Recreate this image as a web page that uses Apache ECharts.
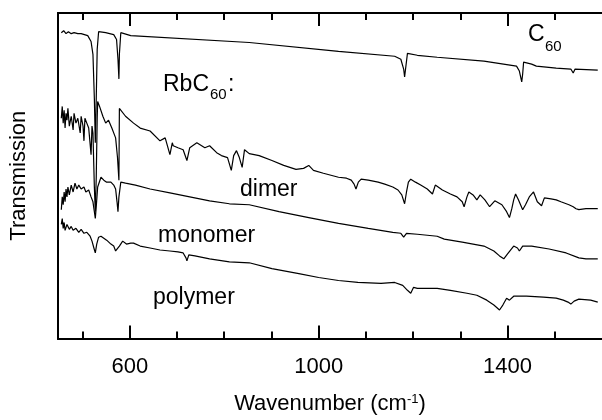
<!DOCTYPE html>
<html>
<head>
<meta charset="utf-8">
<script src="https://cdn.jsdelivr.net/npm/echarts@6/dist/echarts.min.js"></script>
<style>html,body{margin:0;padding:0;background:#fff}#c{width:602px;height:420px}</style>
</head>
<body>
<div id="c"></div>
<script>
// Wavenumber (cm^-1) and transmission (arbitrary units, offset)
const c60Wn = [455,460,465,470,476,482,490,497,511,518,522,525,527,529,531,534,549,566,572,575,577,578,581,602,853,1042,1161,1174,1180,1182,1184,1188,1209,1251,1350,1419,1425,1430,1432,1434,1451,1461,1503,1534,1539,1543,1591];
const c60T  = [311,313,310,312,310,311,310,310,308,302,289,244,199,244,294,312,311,309,304,284,264,289,311,308,301,292,287,284,274,266,274,290,288,286,282,277,272,261,269,281,279,277,275,274,270,274,273];

const dimerWn = [455,457,459,461,463,465,467,469,472,476,480,482,486,490,495,497,501,503,505,509,513,518,520,522,525,527,529,531,532,536,543,549,555,562,566,570,574,577,578,591,608,622,643,664,675,685,690,692,702,713,721,727,742,759,769,784,794,807,815,820,826,832,838,843,853,874,901,926,952,968,979,989,1010,1042,1059,1069,1075,1079,1084,1090,1105,1126,1140,1157,1168,1176,1182,1186,1190,1195,1205,1216,1230,1241,1247,1262,1279,1293,1304,1308,1314,1318,1327,1335,1342,1352,1362,1373,1388,1398,1404,1409,1413,1417,1423,1432,1438,1446,1455,1463,1472,1478,1492,1503,1513,1530,1539,1545,1551,1566,1591];
const dimerT  = [224,236,219,232,214,229,222,234,216,226,212,229,219,224,209,226,216,201,224,219,214,187,216,209,154,129,164,224,241,236,226,219,222,214,212,204,184,161,234,226,219,214,211,201,204,187,199,196,194,192,181,194,199,194,196,189,186,184,171,186,191,184,174,192,188,186,181,176,172,173,176,171,168,164,163,161,157,152,159,162,161,159,157,154,151,146,137,149,159,162,159,156,152,147,156,151,147,144,139,134,144,149,146,141,146,141,134,140,136,129,123,132,141,147,141,131,136,144,149,139,135,143,142,141,139,136,134,132,131,132,132];

const monoWn = [455,457,459,461,463,465,467,469,472,476,480,484,488,492,497,503,507,513,518,522,525,527,529,532,539,545,551,560,566,570,573,575,577,581,591,612,643,685,727,769,811,853,916,979,1042,1105,1157,1174,1180,1186,1209,1251,1266,1304,1350,1371,1383,1392,1400,1413,1421,1425,1432,1451,1488,1524,1551,1566,1591];
const monoT  = [131,144,136,149,139,152,144,154,146,156,149,158,152,156,152,154,149,151,144,139,129,122,134,154,164,161,159,159,156,152,139,129,144,159,158,156,152,148,144,140,137,136,129,123,117,112,108,107,103,107,106,104,101,98,94,89,84,81,86,94,92,89,94,94,91,87,82,81,81];

const polyWn = [455,457,459,461,463,467,472,476,480,486,492,497,503,509,516,520,524,527,530,534,539,545,551,560,566,570,574,578,585,593,602,608,622,643,664,685,702,713,719,721,725,738,769,811,853,901,958,1000,1042,1083,1132,1161,1178,1188,1195,1201,1209,1251,1279,1314,1335,1356,1371,1383,1390,1398,1404,1413,1440,1476,1503,1518,1528,1534,1541,1551,1576,1591];
const polyT  = [116,122,112,118,110,116,111,114,110,112,108,111,107,108,104,99,92,87,96,103,104,102,100,96,94,89,87,94,99,96,97,97,94,92,90,89,88,87,82,79,85,84,81,78,77,71,66,62,59,57,56,57,54,49,46,52,51,51,49,46,44,39,34,29,34,41,39,43,43,42,41,39,37,35,38,40,39,37];

const majorTicks = [600, 1000, 1400];
const minorTicks = [500, 700, 800, 900, 1100, 1200, 1300, 1500];

const zip = (a, b) => a.map((v, i) => [v, b[i]]);
const X_MIN = 448, X_MAX = 1600;
const FONT = 'Liberation Sans, Arial, sans-serif';

function xAx(pos, major, labels) {
  return {
    type: 'value', position: pos, min: X_MIN, max: X_MAX,
    axisLine: { show: true, onZero: false, lineStyle: { color: '#000', width: 2 } },
    axisTick: { show: true, inside: true, length: major ? 13 : 7, customValues: major ? majorTicks : minorTicks,
                lineStyle: { color: '#000', width: 2 } },
    axisLabel: labels ? { show: true, customValues: majorTicks, margin: 17, color: '#000', fontSize: 22, fontFamily: FONT,
                          formatter: v => String(v) }
                      : { show: false },
    splitLine: { show: false },
    name: labels ? '{a|Wavenumber (cm}{s|-1}{a|)}' : '',
    nameLocation: 'middle', nameGap: 54,
    nameTextStyle: { color: '#000', fontFamily: FONT,
      rich: { a: { fontSize: 22, color: '#000', fontFamily: FONT },
              s: { fontSize: 13, color: '#000', fontFamily: FONT, verticalAlign: 'top', padding: [0, 0, 10, 0] } } }
  };
}

const chart = echarts.init(document.getElementById('c'), null, { renderer: 'canvas' });
const mk = (name, wn, t) => ({ name, type: 'line', data: zip(wn, t), showSymbol: false, animation: false,
  lineStyle: { color: '#000', width: 1.2 }, itemStyle: { color: '#000' }, z: 3 });

chart.setOption({
  animation: false,
  backgroundColor: '#fff',
  grid: { left: 57, top: 13, right: -4, bottom: 76, containLabel: false },
  xAxis: [xAx('bottom', true, true), xAx('bottom', false, false), xAx('top', true, false), xAx('top', false, false)],
  yAxis: {
    type: 'value', min: 0, max: 331,
    axisLine: { show: true, lineStyle: { color: '#000', width: 2 } },
    axisTick: { show: false }, axisLabel: { show: false }, splitLine: { show: false },
    name: 'Transmission', nameLocation: 'middle', nameGap: 28, nameRotate: 90,
    nameTextStyle: { color: '#000', fontSize: 22, fontFamily: FONT }
  },
  series: [
    mk('C60', c60Wn, c60T),
    mk('dimer', dimerWn, dimerT),
    mk('monomer', monoWn, monoT),
    mk('polymer', polyWn, polyT)
  ],
  graphic: [
    { type: 'text', x: 528, y: 35, style: { text: 'C', font: '23px ' + FONT, fill: '#000', verticalAlign: 'middle' } },
    { type: 'text', x: 545, y: 47, style: { text: '60', font: '15px ' + FONT, fill: '#000', verticalAlign: 'middle' } },
    { type: 'text', x: 163, y: 85, style: { text: 'RbC', font: '23px ' + FONT, fill: '#000', verticalAlign: 'middle' } },
    { type: 'text', x: 210, y: 95, style: { text: '60', font: '15px ' + FONT, fill: '#000', verticalAlign: 'middle' } },
    { type: 'text', x: 228, y: 85, style: { text: ':', font: '23px ' + FONT, fill: '#000', verticalAlign: 'middle' } },
    { type: 'text', x: 240, y: 190, style: { text: 'dimer', font: '23px ' + FONT, fill: '#000', verticalAlign: 'middle' } },
    { type: 'text', x: 158, y: 236, style: { text: 'monomer', font: '23px ' + FONT, fill: '#000', verticalAlign: 'middle' } },
    { type: 'text', x: 153, y: 298, style: { text: 'polymer', font: '23px ' + FONT, fill: '#000', verticalAlign: 'middle' } }
  ]
});
</script>
</body>
</html>
